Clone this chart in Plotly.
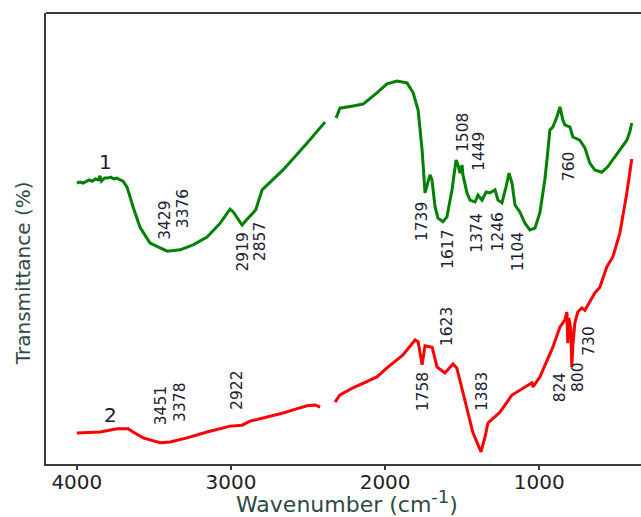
import plotly.graph_objects as go

# FTIR spectra (wavenumber in cm-1, transmittance in arbitrary offset units)
wn_1 = [4000, 3980, 3960, 3940, 3920, 3900, 3880, 3860, 3850, 3840, 3820, 3800,
        3780, 3760, 3740, 3720, 3700, 3674, 3635, 3590, 3525, 3414, 3330, 3246,
        3155, 3070, 3006, 2985, 2928, 2900, 2870, 2857, 2840, 2798, 2662, 2506,
        2390, 2350, 2318, 2293, 2208, 2143, 2053, 1988, 1923, 1858, 1818, 1786,
        1760, 1741, 1709, 1696, 1676, 1657, 1625, 1599, 1566, 1540, 1527, 1514,
        1501, 1495, 1469, 1449, 1417, 1397, 1371, 1345, 1320, 1287, 1268, 1242,
        1216, 1196, 1177, 1157, 1126, 1093, 1061, 1028, 996, 964, 950, 931, 912,
        886, 866, 847, 834, 801, 782, 737, 704, 672, 640, 595, 556, 523, 477,
        432, 413, 400]
t_1 = [62.3, 62.5, 62.3, 62.7, 63.0, 62.7, 63.2, 63.0, 63.9, 62.7, 63.4, 63.4,
       63.6, 63.2, 63.4, 63.0, 62.7, 61.4, 57.0, 52.5, 49.0, 47.2, 47.5, 48.6,
       50.3, 53.4, 56.5, 55.9, 53.0, 54.1, 55.2, 55.9, 56.3, 60.8, 65.2, 71.2,
       75.8, None, 76.7, 78.9, 79.4, 79.8, 82.3, 84.3, 84.9, 84.5, 82.3, 78.5,
       69.6, 60.1, 64.1, 63.0, 57.0, 54.5, 53.7, 54.8, 60.8, 67.4, 66.3, 64.5,
       66.3, 64.1, 60.1, 58.5, 58.1, 59.6, 58.5, 60.3, 60.1, 60.8, 58.5, 57.9,
       61.4, 64.5, 62.3, 57.4, 55.9, 53.4, 51.9, 52.3, 55.7, 63.0, 67.4, 74.1,
       74.7, 76.9, 79.2, 76.3, 75.2, 74.7, 72.5, 71.8, 70.1, 66.7, 65.2, 64.7,
       65.9, 67.4, 69.6, 71.8, 73.6, 75.6]

wn_2 = [4000, 3849, 3739, 3667, 3635, 3570, 3460, 3395, 3285, 3155, 3006, 2928,
        2876, 2766, 2662, 2597, 2506, 2454, 2422, 2370, 2325, 2293, 2208, 2053,
        1988, 1884, 1806, 1786, 1760, 1741, 1695, 1663, 1612, 1560, 1535, 1495,
        1430, 1378, 1352, 1333, 1255, 1177, 1126, 1048, 1041, 996, 912, 866, 834,
        821, 815, 808, 795, 789, 782, 769, 750, 724, 704, 672, 640, 607, 562,
        523, 477, 432, 400]
t_2 = [6.9, 7.1, 7.8, 7.8, 7.1, 5.8, 4.7, 4.9, 5.8, 7.1, 8.4, 8.6,
       9.5, 10.4, 11.3, 12.0, 12.9, 13.1, 12.6, None, 13.7, 15.3, 16.9, 19.3,
       21.3, 24.2, 27.5, 27.1, 22.0, 26.2, 25.9, 21.5, 20.2, 22.2, 21.3, 15.7,
       6.9, 2.7, 6.0, 9.1, 11.5, 15.3, 16.4, 18.0, 17.1, 19.3, 25.9, 30.4, 31.9,
       33.7, 26.8, 32.4, 29.7, 21.5, 26.4, 31.3, 33.7, 34.6, 34.1, 35.9, 37.9, 39.2, 43.7,
       45.9, 51.2, 60.1, 67.6]

# Peak labels: (wavenumber, label height, horizontal nudge in px)
peaks_1 = [(3429, 54.1, 0), (3376, 56.5, 10), (2919, 47.0, 0), (2857, 49.2, 7),
           (1739, 53.7, -4), (1617, 47.5, 4), (1508, 73.6, 2), (1449, 69.2, 9),
           (1374, 51.2, -5), (1246, 51.4, -3), (1104, 47.0, -5), (760, 66.1, -7)]
peaks_2 = [(3451, 12.9, -1), (3378, 13.7, 7), (2922, 16.2, -6), (1758, 16.0, 0),
           (1623, 30.4, 4), (1383, 16.0, 2), (824, 17.1, -7), (800, 19.3, 8),
           (730, 27.3, 8)]

curve_names = ["1", "2"]
curve_name_pos = [(3816, 67.0), (3784, 10.9)]

x_ticks = [4000, 3000, 2000, 1000]

FONT = "DejaVu Sans"
LABEL_COLOR = "#202034"
TITLE_COLOR = "#2f4a45"
AXIS_COLOR = "#3a3a3a"

fig = go.Figure()
fig.add_trace(go.Scatter(x=wn_1, y=t_1, mode="lines", connectgaps=False,
                         line=dict(color="#008000", width=3), showlegend=False))
fig.add_trace(go.Scatter(x=wn_2, y=t_2, mode="lines", connectgaps=False,
                         line=dict(color="#ff0000", width=3), showlegend=False))

annotations = []
for wn, yy, dx in peaks_1 + peaks_2:
    annotations.append(dict(x=wn, y=yy, xref="x", yref="y", text=str(wn),
                            textangle=-90, showarrow=False, xshift=dx,
                            font=dict(family=FONT, size=15.5, color=LABEL_COLOR)))
for name, (xx, yy) in zip(curve_names, curve_name_pos):
    annotations.append(dict(x=xx, y=yy, xref="x", yref="y", text=name,
                            showarrow=False,
                            font=dict(family=FONT, size=20, color=LABEL_COLOR)))

# axis titles
annotations.append(dict(
    text="Wavenumber (cm<sup><span style='font-size:18px'>-1</span></sup>)",
    xref="paper", yref="paper", x=0.506, y=-0.084, xanchor="center", yanchor="middle",
    showarrow=False, font=dict(family=FONT, size=22, color=TITLE_COLOR)))
annotations.append(dict(
    text="Transmittance (%)", textangle=-90,
    xref="paper", yref="paper", x=0, y=0.423, xshift=-23, xanchor="center",
    yanchor="middle", showarrow=False,
    font=dict(family=FONT, size=20, color=TITLE_COLOR)))

fig.update_layout(
    width=641, height=517,
    margin=dict(l=46, r=0, t=13, b=53),
    paper_bgcolor="white", plot_bgcolor="white",
    font=dict(family=FONT, size=20, color="#222222"),
    annotations=annotations,
    shapes=[dict(type="line", xref="paper", yref="paper", x0=0, x1=1, y0=1, y1=1,
                 line=dict(color=AXIS_COLOR, width=2))],
)
fig.update_xaxes(
    range=[4200, 340], tickvals=x_ticks, ticktext=[str(v) for v in x_ticks],
    showgrid=False, zeroline=False, showline=True, linecolor=AXIS_COLOR, linewidth=2,
    ticks="outside", ticklen=4, tickwidth=1.5, tickcolor=AXIS_COLOR,
    ticklabelstandoff=-5,
    tickfont=dict(family=FONT, size=20, color="#222222"),
)
fig.update_yaxes(
    range=[0, 100], showgrid=False, zeroline=False, showticklabels=False,
    showline=True, linecolor=AXIS_COLOR, linewidth=2, ticks="",
)

fig.write_html("out.html")
